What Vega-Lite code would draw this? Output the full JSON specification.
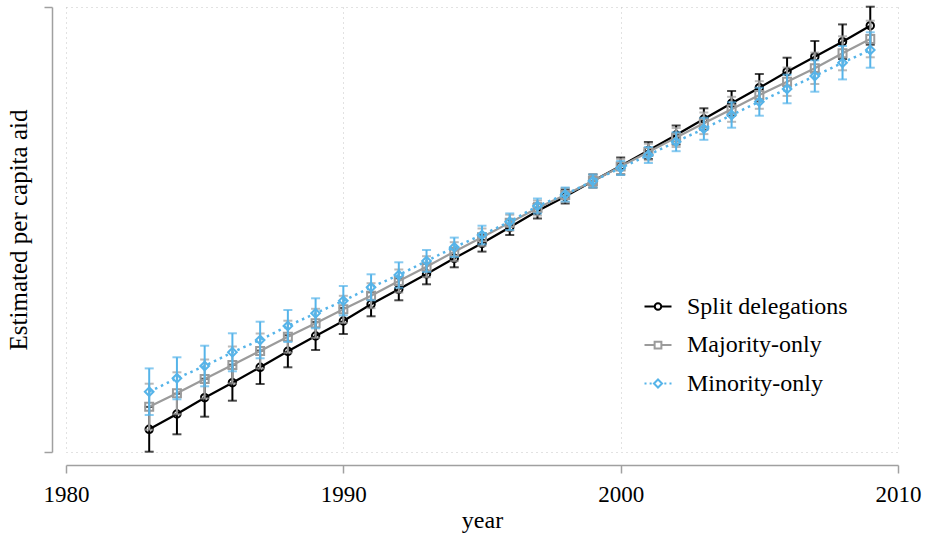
{
  "$schema": "https://vega.github.io/schema/vega-lite/v6.json",
  "width": 832,
  "height": 445,
  "autosize": {"type": "none"},
  "padding": {"left": 66, "top": 7, "right": 29, "bottom": 88},
  "background": "white",
  "config": {
    "font": "Liberation Serif",
    "view": {"stroke": null},
    "axis": {
      "domainColor": "#a0a0a0",
      "domainWidth": 1.5,
      "tickColor": "#a0a0a0",
      "tickWidth": 1.5,
      "tickSize": 8,
      "gridColor": "#c4c4c4",
      "gridDash": [1, 4],
      "gridWidth": 1,
      "labelFont": "Liberation Serif",
      "labelFontSize": 23,
      "labelColor": "#000",
      "titleFont": "Liberation Serif",
      "titleFontSize": 24,
      "titleFontWeight": "normal",
      "titleColor": "#000"
    },
    "legend": {
      "labelFont": "Liberation Serif",
      "labelFontSize": 24,
      "labelColor": "#000",
      "labelLimit": 400
    }
  },
  "datasets": {
    "est": [
      {"series": "Split delegations", "year": 1983, "est": 22.7, "lo": 0.3, "hi": 45.1},
      {"series": "Split delegations", "year": 1984, "est": 38.0, "lo": 17.7, "hi": 58.3},
      {"series": "Split delegations", "year": 1985, "est": 54.3, "lo": 35.3, "hi": 73.3},
      {"series": "Split delegations", "year": 1986, "est": 69.3, "lo": 51.3, "hi": 87.3},
      {"series": "Split delegations", "year": 1987, "est": 84.7, "lo": 68.0, "hi": 101.4},
      {"series": "Split delegations", "year": 1988, "est": 100.7, "lo": 84.7, "hi": 116.7},
      {"series": "Split delegations", "year": 1989, "est": 116.0, "lo": 102.0, "hi": 130.0},
      {"series": "Split delegations", "year": 1990, "est": 131.0, "lo": 118.0, "hi": 144.0},
      {"series": "Split delegations", "year": 1991, "est": 147.7, "lo": 135.7, "hi": 159.7},
      {"series": "Split delegations", "year": 1992, "est": 162.7, "lo": 151.7, "hi": 173.7},
      {"series": "Split delegations", "year": 1993, "est": 178.0, "lo": 167.7, "hi": 188.3},
      {"series": "Split delegations", "year": 1994, "est": 193.7, "lo": 184.7, "hi": 202.7},
      {"series": "Split delegations", "year": 1995, "est": 208.7, "lo": 200.4, "hi": 217.0},
      {"series": "Split delegations", "year": 1996, "est": 224.7, "lo": 217.0, "hi": 232.4},
      {"series": "Split delegations", "year": 1997, "est": 241.0, "lo": 233.5, "hi": 248.5},
      {"series": "Split delegations", "year": 1998, "est": 255.5, "lo": 248.5, "hi": 262.5},
      {"series": "Split delegations", "year": 1999, "est": 271.0, "lo": 264.5, "hi": 277.5},
      {"series": "Split delegations", "year": 2000, "est": 286.0, "lo": 277.5, "hi": 294.5},
      {"series": "Split delegations", "year": 2001, "est": 301.5, "lo": 293.0, "hi": 310.0},
      {"series": "Split delegations", "year": 2002, "est": 317.0, "lo": 307.5, "hi": 326.5},
      {"series": "Split delegations", "year": 2003, "est": 333.0, "lo": 322.3, "hi": 343.7},
      {"series": "Split delegations", "year": 2004, "est": 348.7, "lo": 336.4, "hi": 361.0},
      {"series": "Split delegations", "year": 2005, "est": 364.3, "lo": 350.6, "hi": 378.0},
      {"series": "Split delegations", "year": 2006, "est": 380.3, "lo": 366.3, "hi": 394.3},
      {"series": "Split delegations", "year": 2007, "est": 395.3, "lo": 379.6, "hi": 411.0},
      {"series": "Split delegations", "year": 2008, "est": 410.3, "lo": 393.0, "hi": 427.6},
      {"series": "Split delegations", "year": 2009, "est": 426.3, "lo": 407.3, "hi": 445.3},
      {"series": "Majority-only", "year": 1983, "est": 45.3, "lo": 22.3, "hi": 68.3},
      {"series": "Majority-only", "year": 1984, "est": 58.7, "lo": 37.7, "hi": 79.7},
      {"series": "Majority-only", "year": 1985, "est": 73.0, "lo": 53.5, "hi": 92.5},
      {"series": "Majority-only", "year": 1986, "est": 87.0, "lo": 68.5, "hi": 105.5},
      {"series": "Majority-only", "year": 1987, "est": 101.0, "lo": 83.5, "hi": 118.5},
      {"series": "Majority-only", "year": 1988, "est": 115.3, "lo": 99.3, "hi": 131.3},
      {"series": "Majority-only", "year": 1989, "est": 128.7, "lo": 114.2, "hi": 143.2},
      {"series": "Majority-only", "year": 1990, "est": 142.7, "lo": 129.2, "hi": 156.2},
      {"series": "Majority-only", "year": 1991, "est": 156.3, "lo": 143.8, "hi": 168.8},
      {"series": "Majority-only", "year": 1992, "est": 171.0, "lo": 159.5, "hi": 182.5},
      {"series": "Majority-only", "year": 1993, "est": 185.3, "lo": 174.8, "hi": 195.8},
      {"series": "Majority-only", "year": 1994, "est": 200.3, "lo": 190.8, "hi": 209.8},
      {"series": "Majority-only", "year": 1995, "est": 214.7, "lo": 205.9, "hi": 223.5},
      {"series": "Majority-only", "year": 1996, "est": 229.3, "lo": 221.3, "hi": 237.3},
      {"series": "Majority-only", "year": 1997, "est": 244.0, "lo": 236.5, "hi": 251.5},
      {"series": "Majority-only", "year": 1998, "est": 257.0, "lo": 250.0, "hi": 264.0},
      {"series": "Majority-only", "year": 1999, "est": 271.0, "lo": 264.5, "hi": 277.5},
      {"series": "Majority-only", "year": 2000, "est": 285.5, "lo": 278.0, "hi": 293.0},
      {"series": "Majority-only", "year": 2001, "est": 300.0, "lo": 291.7, "hi": 308.3},
      {"series": "Majority-only", "year": 2002, "est": 314.5, "lo": 305.0, "hi": 324.0},
      {"series": "Majority-only", "year": 2003, "est": 328.7, "lo": 317.9, "hi": 339.5},
      {"series": "Majority-only", "year": 2004, "est": 342.7, "lo": 330.2, "hi": 355.2},
      {"series": "Majority-only", "year": 2005, "est": 357.0, "lo": 343.2, "hi": 370.8},
      {"series": "Majority-only", "year": 2006, "est": 370.3, "lo": 356.1, "hi": 384.5},
      {"series": "Majority-only", "year": 2007, "est": 383.7, "lo": 368.0, "hi": 399.4},
      {"series": "Majority-only", "year": 2008, "est": 398.7, "lo": 381.7, "hi": 415.7},
      {"series": "Majority-only", "year": 2009, "est": 413.0, "lo": 394.7, "hi": 431.3},
      {"series": "Minority-only", "year": 1983, "est": 60.3, "lo": 37.0, "hi": 83.6},
      {"series": "Minority-only", "year": 1984, "est": 73.7, "lo": 52.7, "hi": 94.7},
      {"series": "Minority-only", "year": 1985, "est": 86.0, "lo": 65.7, "hi": 106.3},
      {"series": "Minority-only", "year": 1986, "est": 99.7, "lo": 80.7, "hi": 118.7},
      {"series": "Minority-only", "year": 1987, "est": 112.0, "lo": 93.7, "hi": 130.3},
      {"series": "Minority-only", "year": 1988, "est": 126.0, "lo": 110.0, "hi": 142.0},
      {"series": "Minority-only", "year": 1989, "est": 138.7, "lo": 123.7, "hi": 153.7},
      {"series": "Minority-only", "year": 1990, "est": 151.3, "lo": 136.6, "hi": 166.0},
      {"series": "Minority-only", "year": 1991, "est": 164.7, "lo": 151.7, "hi": 177.7},
      {"series": "Minority-only", "year": 1992, "est": 177.0, "lo": 164.3, "hi": 189.7},
      {"series": "Minority-only", "year": 1993, "est": 191.0, "lo": 180.0, "hi": 202.0},
      {"series": "Minority-only", "year": 1994, "est": 204.7, "lo": 195.0, "hi": 214.4},
      {"series": "Minority-only", "year": 1995, "est": 217.0, "lo": 207.7, "hi": 226.3},
      {"series": "Minority-only", "year": 1996, "est": 230.3, "lo": 222.0, "hi": 238.6},
      {"series": "Minority-only", "year": 1997, "est": 246.0, "lo": 238.5, "hi": 253.5},
      {"series": "Minority-only", "year": 1998, "est": 257.5, "lo": 250.5, "hi": 264.5},
      {"series": "Minority-only", "year": 1999, "est": 271.0, "lo": 264.5, "hi": 277.5},
      {"series": "Minority-only", "year": 2000, "est": 284.0, "lo": 277.0, "hi": 291.0},
      {"series": "Minority-only", "year": 2001, "est": 297.0, "lo": 289.0, "hi": 305.0},
      {"series": "Minority-only", "year": 2002, "est": 310.3, "lo": 300.8, "hi": 319.8},
      {"series": "Minority-only", "year": 2003, "est": 323.2, "lo": 312.2, "hi": 334.2},
      {"series": "Minority-only", "year": 2004, "est": 337.0, "lo": 324.3, "hi": 349.7},
      {"series": "Minority-only", "year": 2005, "est": 350.3, "lo": 336.3, "hi": 364.3},
      {"series": "Minority-only", "year": 2006, "est": 363.0, "lo": 348.7, "hi": 377.3},
      {"series": "Minority-only", "year": 2007, "est": 376.0, "lo": 360.3, "hi": 391.7},
      {"series": "Minority-only", "year": 2008, "est": 389.3, "lo": 372.6, "hi": 406.0},
      {"series": "Minority-only", "year": 2009, "est": 402.0, "lo": 384.3, "hi": 419.7}
    ]
  },
  "data": {"name": "est"},
  "encoding": {
    "x": {
      "field": "year",
      "type": "quantitative",
      "scale": {"domain": [1980, 2010], "nice": false, "zero": false},
      "axis": {
        "title": "year",
        "values": [1980, 1990, 2000, 2010],
        "format": "d",
        "offset": 13,
        "grid": true,
        "labelPadding": 10,
        "titlePadding": 2,
        "labelFlush": false
      }
    }
  },
  "layer": [
    {
      "transform": [{"filter": "datum.series === 'Split delegations'"}],
      "mark": {"type": "errorbar", "color": "#000000", "ticks": {"size": 9, "thickness": 2}, "rule": {"strokeWidth": 2}},
      "encoding": {
        "y": {
          "field": "lo",
          "type": "quantitative",
          "scale": {"domain": [0, 445], "nice": false, "zero": false},
          "title": "Estimated per capita aid",
          "axis": {"values": [0, 445], "labels": false, "offset": 14, "grid": true, "titlePadding": 12, "titleFontSize": 25}
        },
        "y2": {"field": "hi"}
      }
    },
    {
      "transform": [{"filter": "datum.series === 'Split delegations'"}],
      "mark": {"type": "line", "color": "#000000", "strokeWidth": 2.2},
      "encoding": {
        "y": {"field": "est", "type": "quantitative", "title": "Estimated per capita aid", "axis": {"values": [0, 445], "labels": false, "offset": 14, "grid": true, "titlePadding": 12, "titleFontSize": 25}}
      }
    },
    {
      "transform": [{"filter": "datum.series === 'Split delegations'"}],
      "mark": {"type": "point", "shape": "circle", "filled": false, "size": 55, "strokeWidth": 2, "color": "#000000", "opacity": 1},
      "encoding": {
        "y": {"field": "est", "type": "quantitative", "title": "Estimated per capita aid", "axis": {"values": [0, 445], "labels": false, "offset": 14, "grid": true, "titlePadding": 12, "titleFontSize": 25}}
      }
    },
    {
      "transform": [{"filter": "datum.series === 'Majority-only'"}],
      "mark": {"type": "errorbar", "color": "#9b9b9b", "ticks": {"size": 9, "thickness": 2}, "rule": {"strokeWidth": 2}},
      "encoding": {
        "y": {"field": "lo", "type": "quantitative", "title": "Estimated per capita aid", "axis": {"values": [0, 445], "labels": false, "offset": 14, "grid": true, "titlePadding": 12, "titleFontSize": 25}},
        "y2": {"field": "hi"}
      }
    },
    {
      "transform": [{"filter": "datum.series === 'Majority-only'"}],
      "mark": {"type": "line", "color": "#9b9b9b", "strokeWidth": 2.2},
      "encoding": {
        "y": {"field": "est", "type": "quantitative", "title": "Estimated per capita aid", "axis": {"values": [0, 445], "labels": false, "offset": 14, "grid": true, "titlePadding": 12, "titleFontSize": 25}}
      }
    },
    {
      "transform": [{"filter": "datum.series === 'Majority-only'"}],
      "mark": {"type": "point", "shape": "square", "filled": false, "size": 64, "strokeWidth": 2, "color": "#9b9b9b", "opacity": 1},
      "encoding": {
        "y": {"field": "est", "type": "quantitative", "title": "Estimated per capita aid", "axis": {"values": [0, 445], "labels": false, "offset": 14, "grid": true, "titlePadding": 12, "titleFontSize": 25}}
      }
    },
    {
      "transform": [{"filter": "datum.series === 'Minority-only'"}],
      "mark": {"type": "errorbar", "color": "#56B4E9", "ticks": {"size": 9, "thickness": 2}, "rule": {"strokeWidth": 2}},
      "encoding": {
        "y": {"field": "lo", "type": "quantitative", "title": "Estimated per capita aid", "axis": {"values": [0, 445], "labels": false, "offset": 14, "grid": true, "titlePadding": 12, "titleFontSize": 25}},
        "y2": {"field": "hi"}
      }
    },
    {
      "transform": [{"filter": "datum.series === 'Minority-only'"}],
      "mark": {"type": "line", "color": "#56B4E9", "strokeWidth": 2.5, "strokeDash": [2.5, 4]},
      "encoding": {
        "y": {"field": "est", "type": "quantitative", "title": "Estimated per capita aid", "axis": {"values": [0, 445], "labels": false, "offset": 14, "grid": true, "titlePadding": 12, "titleFontSize": 25}}
      }
    },
    {
      "transform": [{"filter": "datum.series === 'Minority-only'"}],
      "mark": {"type": "point", "shape": "diamond", "filled": false, "size": 75, "strokeWidth": 2, "color": "#56B4E9", "opacity": 1},
      "encoding": {
        "y": {"field": "est", "type": "quantitative", "title": "Estimated per capita aid", "axis": {"values": [0, 445], "labels": false, "offset": 14, "grid": true, "titlePadding": 12, "titleFontSize": 25}}
      }
    },
    {
      "transform": [{"filter": "false"}],
      "mark": {"type": "point", "filled": false, "strokeWidth": 2, "opacity": 1},
      "encoding": {
        "y": {"field": "est", "type": "quantitative", "title": "Estimated per capita aid", "axis": {"values": [0, 445], "labels": false, "offset": 14, "grid": true, "titlePadding": 12, "titleFontSize": 25}},
        "color": {
          "field": "series",
          "type": "nominal",
          "scale": {"domain": ["Split delegations", "Majority-only", "Minority-only"], "range": ["#000000", "#9b9b9b", "#56B4E9"]},
          "legend": {
            "title": null,
            "orient": "none",
            "legendX": 577.5,
            "legendY": 285,
            "padding": 0,
            "symbolSize": 729,
            "symbolStrokeWidth": 2,
            "labelOffset": 14.5,
            "rowPadding": 11.5,
            "labelFontSize": 24,
            "labelLimit": 400,
            "labelFont": "Liberation Serif"
          }
        },
        "shape": {
          "field": "series",
          "type": "nominal",
          "scale": {
            "domain": ["Split delegations", "Majority-only", "Minority-only"],
            "range": [
              "M-1,0H-0.24M0.24,0H1M0.24,0A0.24,0.24 0 1,1 -0.24,0A0.24,0.24 0 1,1 0.24,0Z",
              "M-1,0H-0.25M0.25,0H1M-0.25,-0.25H0.25V0.25H-0.25Z",
              "M-1,0H-0.85M-0.62,0H-0.47M0.47,0H0.62M0.85,0H1M0,-0.3L0.3,0L0,0.3L-0.3,0Z"
            ]
          },
          "legend": {
            "title": null,
            "orient": "none",
            "legendX": 577.5,
            "legendY": 285,
            "padding": 0,
            "symbolSize": 729,
            "symbolStrokeWidth": 2,
            "labelOffset": 14.5,
            "rowPadding": 11.5,
            "labelFontSize": 24,
            "labelLimit": 400,
            "labelFont": "Liberation Serif"
          }
        }
      }
    }
  ]
}
